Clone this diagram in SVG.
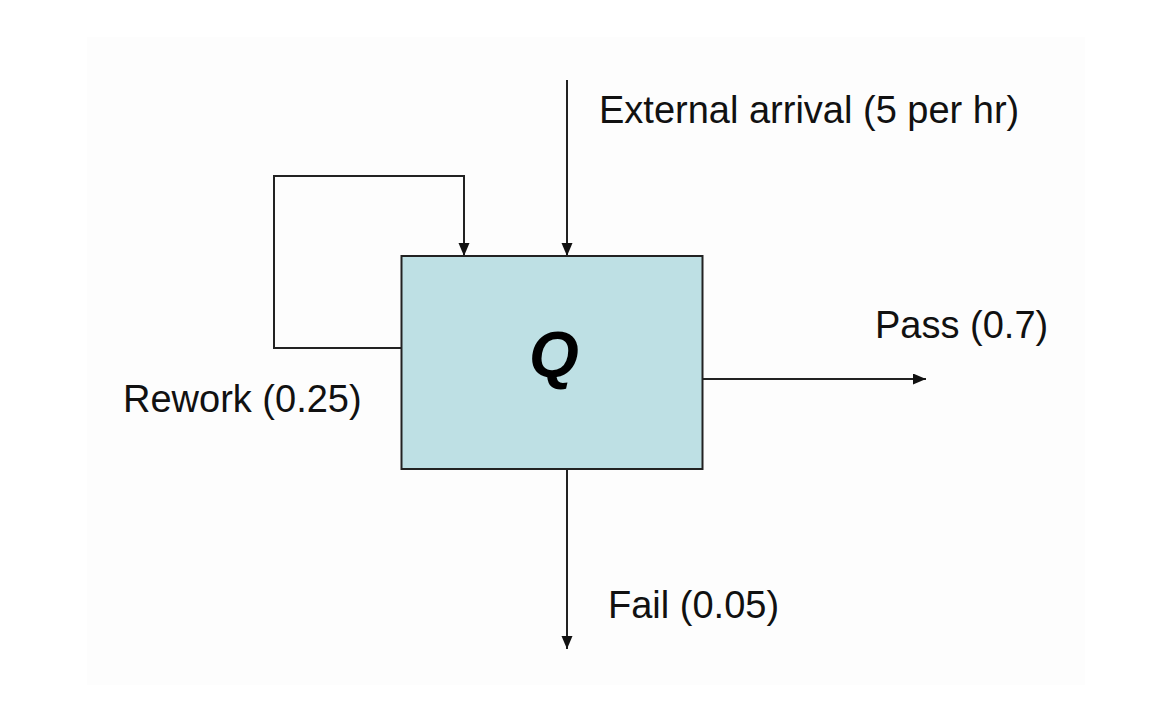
<svg xmlns="http://www.w3.org/2000/svg" width="1176" height="714" viewBox="0 0 1176 714">
<defs>
<style>
.lbl{font-family:"Liberation Sans",Arial,sans-serif;font-size:38px;fill:#111;}
.conn{fill:none;stroke:#222;stroke-width:2;}
</style>
<marker id="arr" markerUnits="userSpaceOnUse" markerWidth="14" markerHeight="12" refX="13" refY="5.5" orient="auto">
<path d="M0,0 L13,5.5 L0,11 z" fill="#111"/>
</marker>
</defs>
<rect x="0" y="0" width="1176" height="714" fill="#ffffff"/>
<rect x="87" y="37" width="998" height="648" fill="#fdfdfd"/>
<g id="connectors">
<path class="conn" d="M567,80 V256" marker-end="url(#arr)"/>
<path class="conn" d="M401,348 H274 V176 H464 V256" marker-end="url(#arr)"/>
<path class="conn" d="M703,379 H926" marker-end="url(#arr)"/>
<path class="conn" d="M567,469 V649" marker-end="url(#arr)"/>
</g>
<g id="node-Q">
<rect x="401.5" y="256" width="301" height="213" fill="#bee0e4" stroke="#222" stroke-width="2"/>
<text x="554" y="377" text-anchor="middle" style="font-family:'Liberation Sans',Arial,sans-serif;font-size:64px;font-weight:bold;font-style:italic;fill:#000;">Q</text>
</g>
<g id="labels">
<text class="lbl" x="599" y="123">External arrival (5 per hr)</text>
<text class="lbl" x="875" y="338">Pass (0.7)</text>
<text class="lbl" x="123" y="412">Rework (0.25)</text>
<text class="lbl" x="608" y="618">Fail (0.05)</text>
</g>
</svg>
